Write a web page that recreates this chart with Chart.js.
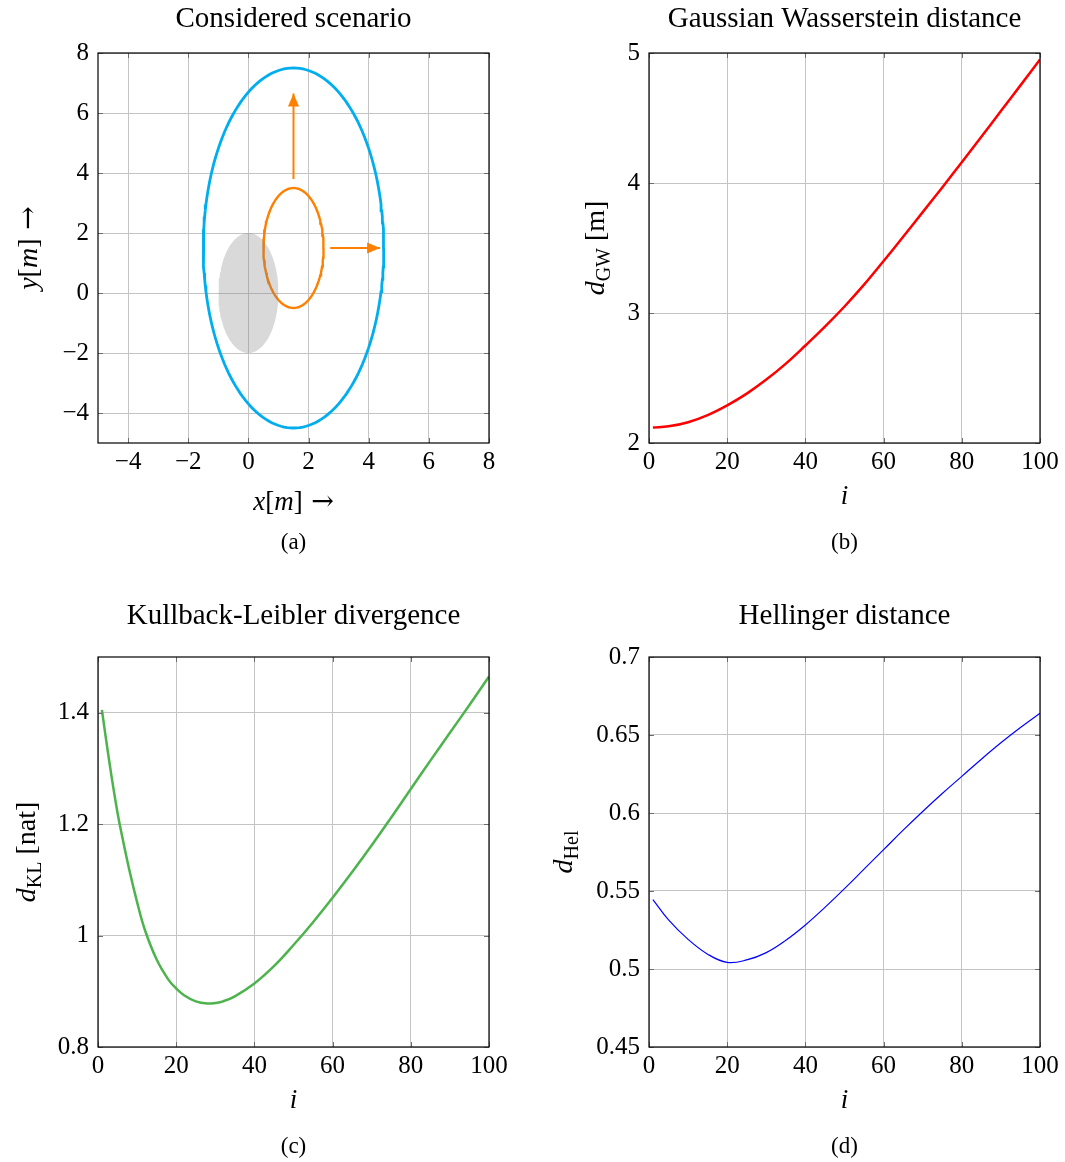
<!DOCTYPE html>
<html>
<head>
<meta charset="utf-8">
<script src="https://cdn.jsdelivr.net/npm/chart.js@4/dist/chart.umd.min.js"></script>
<style>
  body { margin: 0; background: #fff; }
  #wrap { position: relative; width: 1065px; height: 1162px; }
  canvas { position: absolute; }
</style>
</head>
<body>
<div id="wrap">
  <canvas id="chartScenario" width="532" height="581" style="left:0;top:0"></canvas>
  <canvas id="chartGW" width="533" height="581" style="left:532px;top:0"></canvas>
  <canvas id="chartKL" width="532" height="581" style="left:0;top:581px"></canvas>
  <canvas id="chartHel" width="533" height="581" style="left:532px;top:581px"></canvas>
</div>
<script>
// --- scenario geometry [m] ---
const priorEllipse = { cx: 0, cy: 0, rx: 1, ry: 2 };
const outerEllipse = { cx: 1.5, cy: 1.5, rx: 3, ry: 6 };
const innerEllipse = { cx: 1.5, cy: 1.5, rx: 1, ry: 2 };
const arrowUp = [[1.5, 3.8], [1.5, 6.65]];
const arrowRight = [[2.72, 1.5], [4.38, 1.5]];
const scenarioTicks = [-4, -2, 0, 2, 4, 6, 8];

// --- distance measures over i ---
const iTicks = [0, 20, 40, 60, 80, 100];

const iGW = [1, 5, 10, 15, 20, 25, 30, 35, 40, 45, 50, 55, 60, 65, 70, 75, 80, 85, 90, 95, 100];
const dGW = [2.12, 2.128, 2.16, 2.215, 2.29, 2.38, 2.488, 2.611, 2.75, 2.895, 3.05, 3.218, 3.4, 3.586, 3.776, 3.966, 4.16, 4.356, 4.553, 4.751, 4.95];
const gwTicks = [2, 3, 4, 5];

const iKL = [1, 2, 3, 4, 5, 6, 8, 10, 12, 15, 18, 20, 22, 25, 28, 30, 32, 35, 40, 45, 50, 55, 60, 65, 70, 75, 80, 85, 90, 95, 100];
const dKL = [1.405, 1.355, 1.307, 1.262, 1.22, 1.184, 1.118, 1.06, 1.01, 0.957, 0.921, 0.905, 0.893, 0.882, 0.878, 0.879, 0.882, 0.891, 0.914, 0.945, 0.983, 1.024, 1.068, 1.114, 1.162, 1.212, 1.263, 1.314, 1.364, 1.414, 1.465];
const klTicks = [0.8, 1, 1.2, 1.4];

const iHel = [1, 5, 10, 15, 20, 25, 30, 35, 40, 45, 50, 55, 60, 65, 70, 75, 80, 85, 90, 95, 100];
const dHel = [0.5445, 0.5315, 0.519, 0.5095, 0.5042, 0.5058, 0.5105, 0.5184, 0.5282, 0.5395, 0.5515, 0.564, 0.5765, 0.589, 0.601, 0.6125, 0.6235, 0.6345, 0.645, 0.6548, 0.664];
const helTicks = [0.45, 0.5, 0.55, 0.6, 0.65, 0.7];

const FONT = 'Liberation Serif';
const GRID = '#c4c4c4';

const fmt = v => (v < 0 ? '\u2212' + Math.abs(v) : String(v));
const pts = (xs, ys) => xs.map((x, k) => ({ x, y: ys[k] }));

function ellipsePoints(e, from, to, n) {
  const out = [];
  for (let k = 0; k <= n; k++) {
    const t = from + (to - from) * k / n;
    out.push({ x: e.cx + e.rx * Math.cos(t), y: e.cy + e.ry * Math.sin(t) });
  }
  return out;
}

// mixed italic / upright / subscript label, centred on (x, y)
function richText(ctx, parts, x, y, size, angle) {
  const fontOf = p => (p.it ? 'italic ' : '') + (p.sub ? Math.round(size * 0.7) : size) + 'px "' + (p.family || FONT) + '"';
  const widths = parts.map(p => { ctx.font = fontOf(p); return ctx.measureText(p.t).width; });
  const total = widths.reduce((a, b) => a + b, 0);
  ctx.save();
  ctx.translate(x, y);
  ctx.rotate(angle);
  ctx.textAlign = 'left';
  ctx.textBaseline = 'middle';
  let cx = -total / 2;
  parts.forEach((p, k) => {
    ctx.font = fontOf(p);
    ctx.fillText(p.t, cx, p.sub ? size * 0.28 : 0);
    cx += widths[k];
  });
  ctx.restore();
}

function panelDecor(d) {
  return {
    id: 'panelDecor',
    afterDraw(chart) {
      const { ctx, chartArea: a, scales } = chart;
      ctx.save();
      // short tick marks inside the frame
      ctx.strokeStyle = '#6e6e6e';
      ctx.lineWidth = 1;
      ctx.beginPath();
      scales.x.ticks.forEach(t => {
        const px = Math.round(scales.x.getPixelForValue(t.value)) + 0.5;
        ctx.moveTo(px, a.bottom); ctx.lineTo(px, a.bottom - 5);
        ctx.moveTo(px, a.top); ctx.lineTo(px, a.top + 5);
      });
      scales.y.ticks.forEach(t => {
        const py = Math.round(scales.y.getPixelForValue(t.value)) + 0.5;
        ctx.moveTo(a.left, py); ctx.lineTo(a.left + 5, py);
        ctx.moveTo(a.right, py); ctx.lineTo(a.right - 5, py);
      });
      ctx.stroke();
      ctx.strokeStyle = '#000';
      ctx.lineWidth = 1.2;
      ctx.strokeRect(a.left, a.top, a.right - a.left, a.bottom - a.top);

      const mid = (a.left + a.right) / 2;
      ctx.fillStyle = '#000';
      ctx.textAlign = 'center';
      ctx.textBaseline = 'middle';
      ctx.font = '29px "' + FONT + '"';
      ctx.fillText(d.title, mid, d.titleY);
      richText(ctx, d.xLabel, mid, a.bottom + d.xLabelGap, 27, 0);
      richText(ctx, d.yLabel, d.yLabelX, (a.top + a.bottom) / 2, 28, -Math.PI / 2);
      ctx.textAlign = 'center';
      ctx.font = '23px "' + FONT + '"';
      ctx.fillText(d.caption, mid, a.bottom + 100);
      ctx.restore();
    }
  };
}

// filled arrowheads at the last point of datasets flagged with arrowHead
const arrowHeads = {
  id: 'arrowHeads',
  afterDatasetsDraw(chart) {
    const ctx = chart.ctx;
    chart.data.datasets.forEach((ds, i) => {
      if (!ds.arrowHead) return;
      const el = chart.getDatasetMeta(i).data;
      const p0 = el[el.length - 2], p1 = el[el.length - 1];
      const ang = Math.atan2(p1.y - p0.y, p1.x - p0.x);
      ctx.save();
      ctx.translate(p1.x, p1.y);
      ctx.rotate(ang);
      ctx.fillStyle = ds.borderColor;
      ctx.beginPath();
      ctx.moveTo(0, 0);
      ctx.lineTo(-13, -5.5);
      ctx.lineTo(-13, 5.5);
      ctx.closePath();
      ctx.fill();
      ctx.restore();
    });
  }
};

function makeChart(id, box, datasets, xs, ys, decor, extra) {
  const canvas = document.getElementById(id);
  const W = canvas.width, H = canvas.height;
  const tickFont = { family: FONT, size: 25 };
  return new Chart(canvas, {
    type: 'line',
    data: { datasets },
    options: {
      responsive: false,
      animation: false,
      devicePixelRatio: 1,
      events: [],
      layout: { padding: { left: 0, top: box.top, right: W - box.right, bottom: 0 } },
      elements: { point: { radius: 0 }, line: { tension: 0 } },
      plugins: { legend: { display: false }, tooltip: { enabled: false } },
      scales: {
        x: {
          type: 'linear', min: xs.min, max: xs.max,
          afterBuildTicks: s => { s.ticks = xs.ticks.map(v => ({ value: v })); },
          afterFit: s => { s.height = H - box.bottom; },
          grid: { color: GRID, lineWidth: 1, drawTicks: false },
          border: { display: false },
          ticks: { padding: 4, color: '#000', font: tickFont, callback: fmt, maxRotation: 0, autoSkip: false }
        },
        y: {
          type: 'linear', min: ys.min, max: ys.max,
          afterBuildTicks: s => { s.ticks = ys.ticks.map(v => ({ value: v })); },
          afterFit: s => { s.width = box.left; },
          grid: { color: GRID, lineWidth: 1, drawTicks: false },
          border: { display: false },
          ticks: { padding: 9, color: '#000', font: tickFont, callback: fmt, autoSkip: false }
        }
      }
    },
    plugins: [panelDecor(decor)].concat(extra || [])
  });
}

const arrowPart = { t: ' \u2192', family: 'DejaVu Serif' };

// (a) scenario
makeChart('chartScenario', { left: 98, right: 489, top: 53, bottom: 443 }, [
  { data: ellipsePoints(priorEllipse, Math.PI, 0, 60), borderWidth: 0, borderColor: 'rgba(0,0,0,0)',
    backgroundColor: 'rgba(128,128,128,0.3)', fill: '+1' },
  { data: ellipsePoints(priorEllipse, Math.PI, 2 * Math.PI, 60), borderWidth: 0, borderColor: 'rgba(0,0,0,0)', fill: false },
  { data: ellipsePoints(outerEllipse, 0, 2 * Math.PI, 180), borderColor: '#00AEEF', borderWidth: 2.8, fill: false },
  { data: ellipsePoints(innerEllipse, 0, 2 * Math.PI, 120), borderColor: '#FF8000', borderWidth: 2.4, fill: false },
  { data: arrowUp.map(([x, y]) => ({ x, y })), borderColor: '#FF8000', borderWidth: 2, fill: false, arrowHead: true },
  { data: arrowRight.map(([x, y]) => ({ x, y })), borderColor: '#FF8000', borderWidth: 2, fill: false, arrowHead: true }
], { min: -5, max: 8, ticks: scenarioTicks }, { min: -5, max: 8, ticks: scenarioTicks }, {
  title: 'Considered scenario', titleY: 19, caption: '(a)', xLabelGap: 60, yLabelX: 30,
  xLabel: [{ t: 'x', it: true }, { t: '[' }, { t: 'm', it: true }, { t: ']' }, arrowPart],
  yLabel: [{ t: 'y', it: true }, { t: '[' }, { t: 'm', it: true }, { t: ']' }, arrowPart]
}, [arrowHeads]);

// (b) Gaussian Wasserstein distance
makeChart('chartGW', { left: 117, right: 508, top: 53, bottom: 443 }, [
  { data: pts(iGW, dGW), borderColor: '#FF0000', borderWidth: 2.5, tension: 0.4, fill: false }
], { min: 0, max: 100, ticks: iTicks }, { min: 2, max: 5, ticks: gwTicks }, {
  title: 'Gaussian Wasserstein distance', titleY: 19, caption: '(b)', xLabelGap: 54, yLabelX: 65,
  xLabel: [{ t: 'i', it: true }],
  yLabel: [{ t: 'd', it: true }, { t: 'GW', sub: true }, { t: ' [m]' }]
});

// (c) Kullback-Leibler divergence
makeChart('chartKL', { left: 98, right: 489, top: 76, bottom: 466 }, [
  { data: pts(iKL, dKL), borderColor: '#4DB34D', borderWidth: 2.5, tension: 0.4, fill: false }
], { min: 0, max: 100, ticks: iTicks }, { min: 0.8, max: 1.5, ticks: klTicks }, {
  title: 'Kullback-Leibler divergence', titleY: 35, caption: '(c)', xLabelGap: 54, yLabelX: 28,
  xLabel: [{ t: 'i', it: true }],
  yLabel: [{ t: 'd', it: true }, { t: 'KL', sub: true }, { t: ' [nat]' }]
});

// (d) Hellinger distance
makeChart('chartHel', { left: 117, right: 508, top: 76, bottom: 466 }, [
  { data: pts(iHel, dHel), borderColor: '#0000FF', borderWidth: 1.2, tension: 0.4, fill: false }
], { min: 0, max: 100, ticks: iTicks }, { min: 0.45, max: 0.7, ticks: helTicks }, {
  title: 'Hellinger distance', titleY: 35, caption: '(d)', xLabelGap: 54, yLabelX: 33,
  xLabel: [{ t: 'i', it: true }],
  yLabel: [{ t: 'd', it: true }, { t: 'Hel', sub: true }]
});
</script>
</body>
</html>
